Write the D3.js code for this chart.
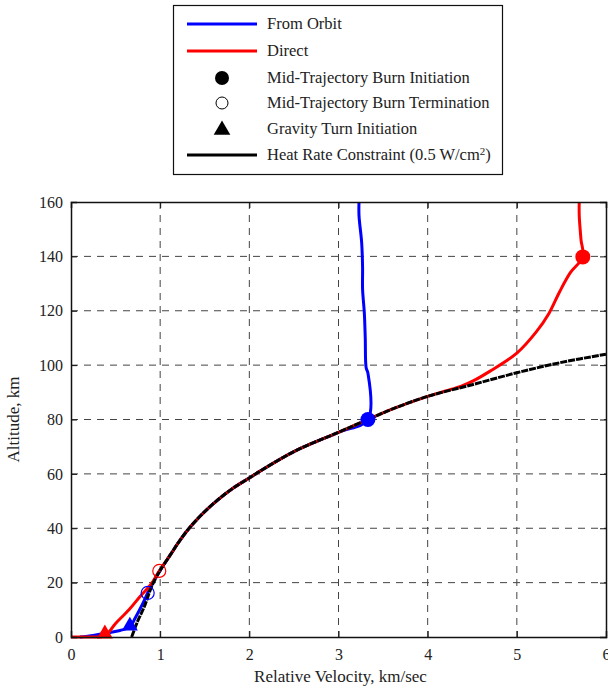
<!DOCTYPE html>
<html>
<head>
    <title>Altitude vs Relative Velocity</title>
    <script src="https://d3js.org/d3.v7.min.js"></script>
    <style>
        body { margin: 0; background: #fff; }
        svg text { font-family: "Liberation Serif", "Times New Roman", serif; fill: #222; }
        .grid line { stroke: #444; stroke-width: 1; stroke-dasharray: 7,6; }
    </style>
</head>
<body>
<svg id="chart" width="608" height="687"></svg>
<script>
    // series values: [velocity km/s, altitude km]
    var fromOrbit = [
        [3.23, 160], [3.23, 155], [3.26, 145], [3.27, 136], [3.27, 128],
        [3.29, 119], [3.30, 110], [3.31, 99], [3.33, 97], [3.33, 80],
        [3.0, 75.3], [2.5, 68.2], [2.12, 61], [2.0, 58.5], [1.82, 54.8],
        [1.63, 50], [1.45, 44.5], [1.3, 39], [1.2, 34.5], [1.11, 30],
        [1.0, 24.5], [0.91, 19.5], [0.86, 16.2], [0.8, 12], [0.72, 7],
        [0.66, 3.7], [0.55, 2.4], [0.4, 1.5], [0.25, 0.6], [0.1, 0]
    ];
    var direct = [
        [0, 0], [0.2, 0], [0.38, 0.5], [0.5, 5], [0.65, 10], [0.77, 14.7],
        [0.9, 19.5], [0.99, 24.3], [1.11, 30], [1.2, 34.5], [1.3, 39],
        [1.45, 44.5], [1.63, 50], [1.82, 54.8], [2.0, 58.5], [2.12, 61],
        [2.5, 68.2], [3.0, 75.3], [3.33, 80], [3.6, 83.8], [4.0, 88.5],
        [4.2, 90.5], [4.37, 92.2], [4.51, 94.2], [4.7, 97.8], [5.0, 104.4],
        [5.22, 112.3], [5.36, 119], [5.48, 127], [5.6, 134], [5.74, 139.8],
        [5.72, 146], [5.71, 150], [5.70, 155], [5.70, 160]
    ];
    var heatRate = [
        [0.68, 0], [0.75, 6], [0.82, 11], [0.91, 19], [1.0, 24.5],
        [1.11, 30], [1.2, 34.5], [1.3, 39], [1.45, 44.5], [1.63, 50],
        [1.82, 54.8], [2.0, 58.5], [2.12, 61], [2.5, 68.2], [3.0, 75.3],
        [3.33, 80], [3.6, 83.8], [4.0, 88.5], [4.5, 92.8], [5.0, 97.2],
        [5.5, 101], [6.0, 104]
    ];
    // event markers
    var burnStart = [{ v: 3.33, h: 80, color: "#0000ff" }, { v: 5.74, h: 139.8, color: "#ff0000" }];
    var burnEnd = [{ v: 0.86, h: 16.2, color: "#0000ff" }, { v: 0.99, h: 24.3, color: "#ff0000" }];
    var gravityTurn = [{ v: 0.66, h: 3.7, color: "#0000ff" }, { v: 0.38, h: 0.8, color: "#ff0000" }];

    var xTicks = [0, 1, 2, 3, 4, 5, 6];
    var yTicks = [0, 20, 40, 60, 80, 100, 120, 140, 160];

    var legendItems = [
        { label: "From Orbit", kind: "line", color: "#0000ff" },
        { label: "Direct", kind: "line", color: "#ff0000" },
        { label: "Mid-Trajectory Burn Initiation", kind: "dot" },
        { label: "Mid-Trajectory Burn Termination", kind: "ring" },
        { label: "Gravity Turn Initiation", kind: "tri" },
        { label: "Heat Rate Constraint (0.5 W/cm", kind: "line", color: "#000", sup: "2", tail: ")" }
    ];

    var serif = "'Liberation Serif', 'Times New Roman', serif";
    var margin = { top: 202, right: 2, bottom: 50, left: 71 };
    var width = 608 - margin.left - margin.right;
    var height = 687 - margin.top - margin.bottom;

    var svg = d3.select("#chart");
    var g = svg.append("g").attr("transform", "translate(" + margin.left + "," + margin.top + ")");

    var x = d3.scaleLinear().domain([0, 6]).range([0, width]);
    var y = d3.scaleLinear().domain([0, 160]).range([height, 0]);

    // dashed grid
    var grid = g.append("g").attr("class", "grid");
    grid.selectAll(".gx").data(xTicks.slice(1, -1)).join("line")
        .attr("x1", d => x(d)).attr("x2", d => x(d)).attr("y1", 0).attr("y2", height);
    grid.selectAll(".gy").data(yTicks.slice(1, -1)).join("line")
        .attr("y1", d => y(d)).attr("y2", d => y(d)).attr("x1", 0).attr("x2", width);

    var line = d3.line().x(d => x(d[0])).y(d => y(d[1])).curve(d3.curveCatmullRom);

    g.append("path").datum(fromOrbit).attr("d", line)
        .attr("fill", "none").attr("stroke", "#0000ff").attr("stroke-width", 3);
    g.append("path").datum(direct).attr("d", line)
        .attr("fill", "none").attr("stroke", "#ff0000").attr("stroke-width", 3);
    g.append("path").datum(heatRate).attr("d", line)
        .attr("fill", "none").attr("stroke", "#000").attr("stroke-width", 3)
        .attr("stroke-dasharray", "7,1");

    // markers
    g.selectAll(".start").data(burnStart).join("circle")
        .attr("cx", d => x(d.v)).attr("cy", d => y(d.h)).attr("r", 7.5)
        .attr("fill", d => d.color);
    g.selectAll(".end").data(burnEnd).join("circle")
        .attr("cx", d => x(d.v)).attr("cy", d => y(d.h)).attr("r", 6.5)
        .attr("fill", "none").attr("stroke", d => d.color).attr("stroke-width", 1.2);
    var tri = d3.symbol().type(d3.symbolTriangle).size(110);
    g.selectAll(".tri").data(gravityTurn).join("path")
        .attr("transform", d => "translate(" + x(d.v) + "," + (y(d.h) - 1) + ")")
        .attr("d", tri).attr("fill", d => d.color);

    // axes with inward ticks
    g.append("g").attr("transform", "translate(0," + height + ")")
        .call(d3.axisBottom(x).tickValues(xTicks).tickSize(-6).tickPadding(12).tickFormat(d3.format("d")));
    g.append("g")
        .call(d3.axisLeft(y).tickValues(yTicks).tickSize(-6).tickPadding(8).tickFormat(d3.format("d")));
    g.append("g").attr("transform", "translate(" + width + ",0)")
        .call(d3.axisRight(y).tickValues(yTicks).tickSize(-6).tickFormat(""));
    g.append("g")
        .call(d3.axisTop(x).tickValues(xTicks).tickSize(-6).tickFormat(""));
    g.selectAll(".domain").attr("stroke", "#111").attr("stroke-width", 1.5);
    g.selectAll(".tick line").attr("stroke", "#111");
    g.selectAll(".tick text").attr("font-family", serif).style("font-family", serif)
        .style("font-size", "16px").attr("fill", "#222");

    svg.append("text").attr("x", margin.left + width / 2 + 2).attr("y", 682)
        .attr("text-anchor", "middle").style("font-size", "17px")
        .text("Relative Velocity, km/sec");
    svg.append("text").attr("transform", "translate(19," + (margin.top + height / 2) + ") rotate(-90)")
        .attr("text-anchor", "middle").style("font-size", "17px")
        .text("Altitude, km");

    // legend
    var lg = svg.append("g");
    lg.append("rect").attr("x", 173.5).attr("y", 5.5).attr("width", 329).attr("height", 169)
        .attr("fill", "#fff").attr("stroke", "#111").attr("stroke-width", 1.2);
    var rowY = [24, 51, 78, 103, 129, 155];
    var rows = lg.selectAll(".row").data(legendItems).join("g")
        .attr("transform", (d, i) => "translate(0," + rowY[i] + ")");
    rows.filter(d => d.kind === "line").append("line")
        .attr("x1", 187).attr("x2", 257).attr("stroke", d => d.color).attr("stroke-width", 3);
    rows.filter(d => d.kind === "dot").append("circle")
        .attr("cx", 222).attr("r", 7).attr("fill", "#000");
    rows.filter(d => d.kind === "ring").append("circle")
        .attr("cx", 222).attr("r", 6).attr("fill", "none").attr("stroke", "#000").attr("stroke-width", 1);
    rows.filter(d => d.kind === "tri").append("path")
        .attr("transform", "translate(222,1)").attr("d", d3.symbol().type(d3.symbolTriangle).size(120))
        .attr("fill", "#000");
    var labels = rows.append("text").attr("x", 267).attr("y", 5).style("font-size", "16.5px")
        .text(d => d.label);
    labels.filter(d => d.sup).append("tspan").attr("dy", -5).style("font-size", "11px").text(d => d.sup);
    labels.filter(d => d.sup).append("tspan").attr("dy", 5).text(d => d.tail);
</script>
</body>
</html>
